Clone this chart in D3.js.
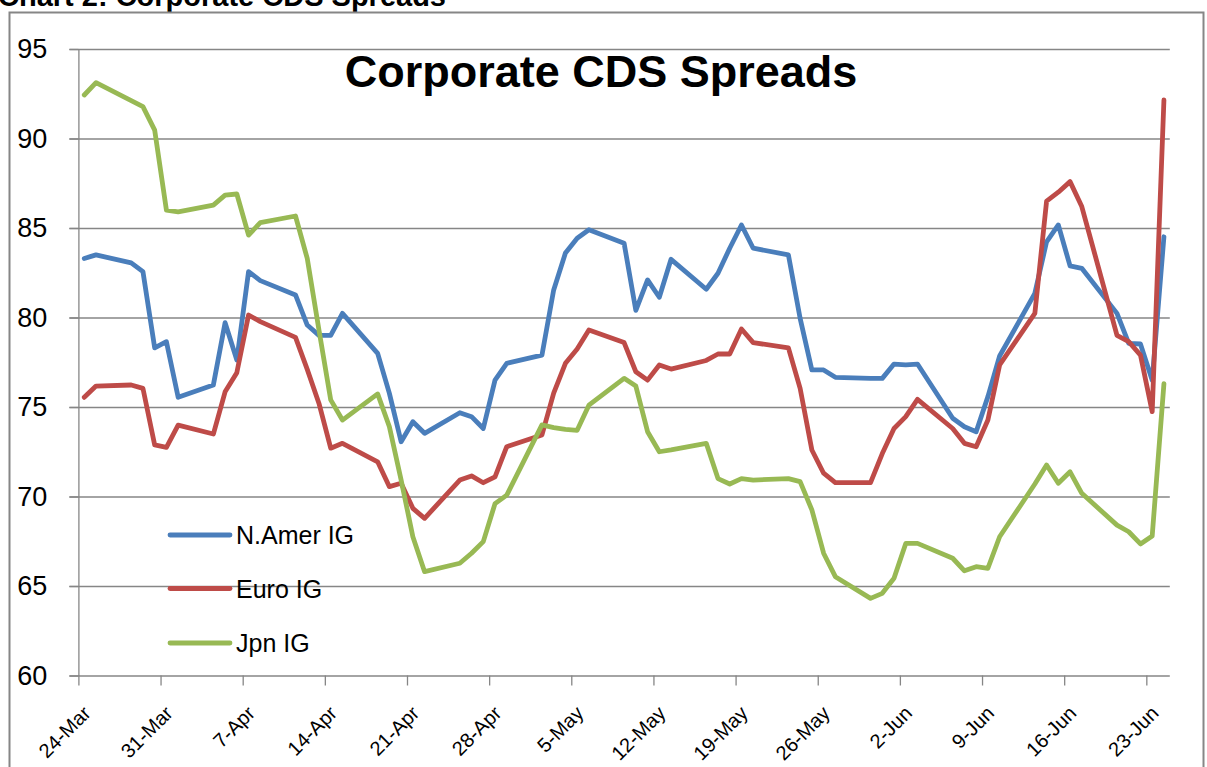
<!DOCTYPE html>
<html>
<head>
<meta charset="utf-8">
<script src="https://cdn.jsdelivr.net/npm/d3@7"></script>
<style>
  html, body { margin: 0; padding: 0; background: #fff; }
  svg { display: block; }
  text { font-family: "Liberation Sans", Arial, sans-serif; }
</style>
</head>
<body>
<svg id="chart" width="1207" height="767"></svg>
<script>
// ---- Data ----
const dates = [
  "2011-03-24","2011-03-25",
  "2011-03-28","2011-03-29","2011-03-30","2011-03-31","2011-04-01",
  "2011-04-04","2011-04-05","2011-04-06","2011-04-07","2011-04-08",
  "2011-04-11","2011-04-12","2011-04-13","2011-04-14","2011-04-15",
  "2011-04-18","2011-04-19","2011-04-20","2011-04-21","2011-04-22",
  "2011-04-25","2011-04-26","2011-04-27","2011-04-28","2011-04-29",
  "2011-05-02","2011-05-03","2011-05-04","2011-05-05","2011-05-06",
  "2011-05-09","2011-05-10","2011-05-11","2011-05-12","2011-05-13",
  "2011-05-16","2011-05-17","2011-05-18","2011-05-19","2011-05-20",
  "2011-05-23","2011-05-24","2011-05-25","2011-05-26","2011-05-27",
  "2011-05-30","2011-05-31","2011-06-01","2011-06-02","2011-06-03",
  "2011-06-06","2011-06-07","2011-06-08","2011-06-09","2011-06-10",
  "2011-06-13","2011-06-14","2011-06-15","2011-06-16","2011-06-17",
  "2011-06-20","2011-06-21","2011-06-22","2011-06-23","2011-06-24"
];
const naIG = [
  83.3, 83.5,
  83.05, 82.56, 78.3, 78.65, 75.54,
  76.23, 79.71, 77.63, 82.56, 82.06,
  81.26, 79.58, 79.0, 79.0, 80.23,
  78.0, 75.76, 73.06, 74.18, 73.53,
  74.68, 74.46, 73.8, 76.5, 77.44,
  77.9, 81.54, 83.6, 84.43, 84.9,
  84.15, 80.4, 82.1, 81.13, 83.25,
  81.58, 82.47, 83.87, 85.17, 83.87,
  83.5, 79.95, 77.07, 77.07, 76.66,
  76.6, 76.6, 77.4, 77.35, 77.4,
  74.37, 73.9, 73.62, 75.58, 77.85,
  81.35, 84.23, 85.17, 82.88, 82.75,
  80.23, 78.56, 78.52, 76.5, 84.51
];
const euroIG = [
  75.54, 76.17,
  76.23, 76.04, 72.88, 72.75, 73.99,
  73.49, 75.85, 76.92, 80.14, 79.77,
  78.89, 77.1, 75.2, 72.7, 72.97,
  71.94, 70.55, 70.74, 69.34, 68.78,
  70.92, 71.15, 70.77, 71.1, 72.78,
  73.44, 75.77, 77.44, 78.24, 79.3,
  78.6, 76.97, 76.5, 77.35, 77.12,
  77.6, 77.96, 77.96, 79.36, 78.6,
  78.3, 76.04, 72.6, 71.3, 70.77,
  70.77, 72.4, 73.8, 74.46, 75.43,
  73.8, 72.97, 72.78, 74.27, 77.35,
  80.23, 86.5, 87.0, 87.59, 86.2,
  79.0, 78.65, 77.9, 74.74, 92.15
];
const jpnIG = [
  92.43, 93.12,
  92.11, 91.78, 90.47, 86.0, 85.9,
  86.28, 86.84, 86.9, 84.6, 85.3,
  85.67, 83.3, 79.3, 75.4, 74.27,
  75.73, 73.9, 70.92, 67.75, 65.8,
  66.27, 66.83, 67.48, 69.6, 70.08,
  74.0, 73.85, 73.75, 73.7, 75.1,
  76.6, 76.17, 73.62, 72.5, 72.6,
  72.97, 71.0, 70.7, 71.0, 70.92,
  71.0, 70.83, 69.25, 66.83, 65.52,
  64.31, 64.59, 65.43, 67.38, 67.38,
  66.55, 65.85, 66.08, 65.99, 67.75,
  70.7, 71.76, 70.74, 71.38, 70.18,
  68.4, 68.03, 67.35, 67.79, 76.3
];
const seriesNames = ["N.Amer IG", "Euro IG", "Jpn IG"];
const seriesColors = ["#4A7EBB", "#BE4B48", "#98B954"];
const yTicks = [60, 65, 70, 75, 80, 85, 90, 95];
const xTickLabels = ["24-Mar","31-Mar","7-Apr","14-Apr","21-Apr","28-Apr","5-May",
                     "12-May","19-May","26-May","2-Jun","9-Jun","16-Jun","23-Jun"];
const xTickDates = ["2011-03-24","2011-03-31","2011-04-07","2011-04-14","2011-04-21","2011-04-28","2011-05-05",
                    "2011-05-12","2011-05-19","2011-05-26","2011-06-02","2011-06-09","2011-06-16","2011-06-23"];
const chartTitle = "Corporate CDS Spreads";
const headerText = "Chart 2: Corporate CDS Spreads";

// ---- Layout ----
const W = 1207, H = 767;
const plot = { left: 78.4, right: 1169.8, top: 49, bottom: 675.5 };
const gridColor = "#868686";

const parse = d3.utcParse("%Y-%m-%d");
const halfDay = 12 * 3600 * 1000;

const x = d3.scaleUtc()
  .domain([parse("2011-03-24"), parse("2011-06-25")])
  .range([plot.left, plot.right]);
const y = d3.scaleLinear()
  .domain([60, 95])
  .range([plot.bottom, plot.top]);

const svg = d3.select("#chart");
svg.append("rect").attr("width", W).attr("height", H).attr("fill", "#fff");

// header text (cut off at top, as in the reference)
svg.append("text")
  .attr("x", -2).attr("y", 6)
  .attr("font-size", 29).attr("font-weight", "bold").attr("fill", "#000")
  .text(headerText);

// chart border
svg.append("rect")
  .attr("x", 9.5).attr("y", 12.5).attr("width", 1194).attr("height", 780)
  .attr("fill", "#fff").attr("stroke", gridColor).attr("stroke-width", 2);

// gridlines
const grid = svg.append("g").attr("transform", `translate(${plot.left - 9},0)`)
  .call(d3.axisRight(y).tickValues(yTicks.filter(v => v !== 60)).tickSize(plot.right - plot.left + 9).tickFormat(""));
grid.select(".domain").remove();
grid.selectAll("line").attr("stroke", gridColor).attr("stroke-width", 1.3);

// y axis
const yAxis = svg.append("g").attr("transform", `translate(${plot.left},0)`)
  .call(d3.axisLeft(y).tickValues(yTicks).tickSize(9).tickPadding(22).tickSizeOuter(0));
yAxis.select(".domain").attr("stroke", gridColor).attr("stroke-width", 1.3);
yAxis.selectAll("line").attr("stroke", gridColor).attr("stroke-width", 1.3);
yAxis.selectAll("text").attr("font-size", 27).attr("fill", "#000")
  .attr("font-family", "'Liberation Sans', Arial, sans-serif");

// x axis
const xAxis = svg.append("g").attr("transform", `translate(0,${plot.bottom})`)
  .call(d3.axisBottom(x).tickValues(xTickDates.map(parse)).tickSize(10).tickSizeOuter(0)
    .tickFormat((d, i) => xTickLabels[i]));
xAxis.select(".domain").attr("d", `M${plot.left - 9},0.5H${plot.right}`)
  .attr("stroke", gridColor).attr("stroke-width", 1.3);
xAxis.selectAll("line").attr("stroke", gridColor).attr("stroke-width", 1.3);
xAxis.selectAll("text")
  .attr("font-size", 20).attr("fill", "#000")
  .attr("font-family", "'Liberation Sans', Arial, sans-serif")
  .attr("x", 0).attr("y", 0).attr("dy", "0.35em")
  .attr("text-anchor", "end")
  .attr("transform", "translate(8,34) rotate(-45)");

// lines
const allSeries = [naIG, euroIG, jpnIG];
const line = d3.line()
  .x((d, i) => x(new Date(parse(dates[i]).getTime() + halfDay)))
  .y(d => y(d));
allSeries.forEach((vals, si) => {
  svg.append("path")
    .datum(vals)
    .attr("fill", "none")
    .attr("stroke", seriesColors[si])
    .attr("stroke-width", 4.8)
    .attr("stroke-linejoin", "round")
    .attr("stroke-linecap", "round")
    .attr("d", line);
});

// title
svg.append("text")
  .attr("x", 601).attr("y", 87)
  .attr("text-anchor", "middle")
  .attr("font-size", 45).attr("font-weight", "bold").attr("fill", "#000")
  .text(chartTitle);

// legend
const legendY = [535, 588.5, 643];
const lg = svg.append("g");
seriesNames.forEach((name, i) => {
  lg.append("line")
    .attr("x1", 170).attr("x2", 230)
    .attr("y1", legendY[i]).attr("y2", legendY[i])
    .attr("stroke", seriesColors[i]).attr("stroke-width", 4.8)
    .attr("stroke-linecap", "round");
  lg.append("text")
    .attr("x", 236).attr("y", legendY[i]).attr("dy", "0.36em")
    .attr("font-size", 25).attr("fill", "#000")
    .text(name);
});
</script>
</body>
</html>
